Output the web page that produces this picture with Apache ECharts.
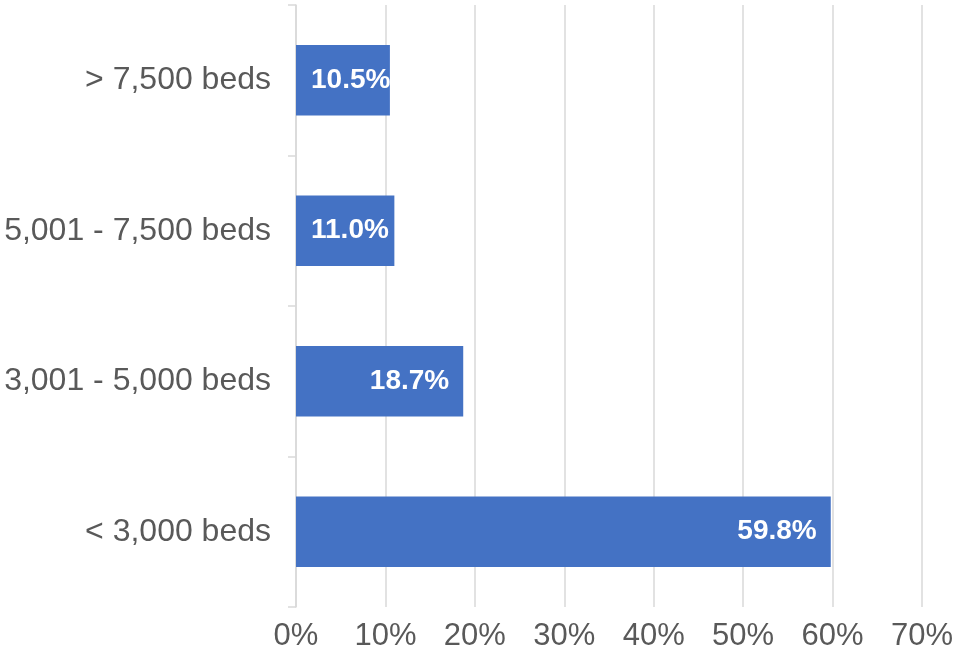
<!DOCTYPE html>
<html><head><meta charset="utf-8">
<script src="https://cdn.jsdelivr.net/npm/echarts@6/dist/echarts.min.js"></script>
<style>html,body{margin:0;padding:0;background:#fff}#c{width:956px;height:654px}</style>
</head><body><div id="c"></div>
<script>
const categories = ['< 3,000 beds', '3,001 - 5,000 beds', '5,001 - 7,500 beds', '> 7,500 beds'];
const values = [59.8, 18.7, 11.0, 10.5];
const xTicks = [0, 10, 20, 30, 40, 50, 60, 70];

const chart = echarts.init(document.getElementById('c'));
chart.setOption({
  animation: false,
  grid: { left: 296, right: 34, top: 5, bottom: 47, containLabel: false },
  xAxis: {
    type: 'value', min: 0, max: 70, interval: 10,
    axisLine: { show: false }, axisTick: { show: false },
    splitLine: { lineStyle: { color: '#d9d9d9', width: 1.5 } },
    axisLabel: { formatter: v => v + '%', color: '#595959', fontSize: 31, fontFamily: 'Liberation Sans, Arial', margin: 14 }
  },
  yAxis: {
    type: 'category', data: categories,
    axisLine: { lineStyle: { color: '#d9d9d9', width: 1.5 } },
    axisTick: { show: true, length: 8, lineStyle: { color: '#d9d9d9', width: 1.5 } },
    axisLabel: { color: '#595959', fontSize: 32, fontFamily: 'Liberation Sans, Arial', margin: 25 }
  },
  series: [{
    type: 'bar', barCategoryGap: '53%',
    itemStyle: { color: '#4472C4' },
    data: values.map(v => ({ value: v, label: v < 15 ? { position: 'insideLeft', distance: 15 } : {} })),
    label: { show: true, position: 'insideRight', distance: 14, color: '#fff', fontWeight: 'bold', fontSize: 28, fontFamily: 'Liberation Sans, Arial', formatter: p => p.value.toFixed(1) + '%' }
  }]
});
</script></body></html>
